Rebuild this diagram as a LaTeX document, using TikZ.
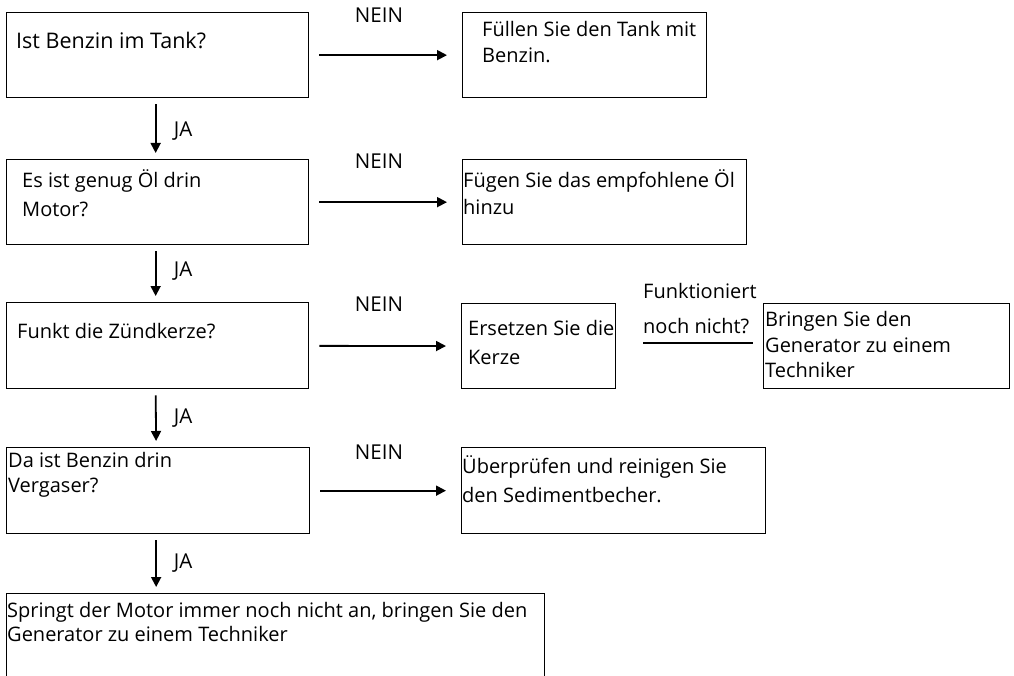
\documentclass[tikz,border=0pt]{standalone}
\usepackage{fontspec}
\setmainfont{Open Sans}
\usetikzlibrary{arrows.meta}

\begin{document}
\begin{tikzpicture}[x = 1pt, y = -1pt,
  box/.style = {draw, line width = 1.3pt, anchor = north west, inner sep = 0pt},
  txt/.style = {anchor = base west, align = left, inner sep = 0pt, font = \fontsize{20}{24}\selectfont},
  lbl/.style = {inner sep = 0pt, font = \fontsize{20.5}{24}\selectfont},
  arr/.style = {line width = 1.8pt, -{Triangle[length = 10pt, width = 10pt]}, shorten <= 10pt, shorten >= 15pt},
  down/.style = {line width = 1.8pt, -{Triangle[length = 10pt, width = 10pt]}, shorten <= 6pt, shorten >= 6pt}]

\clip (0, 0) rectangle (1014, 676);

% boxes
\node [box, minimum width = 302pt, minimum height = 85pt] (tank) at (6, 12) {};
\node [box, minimum width = 244pt, minimum height = 85pt] (fill) at (462, 12) {};
\node [box, minimum width = 302pt, minimum height = 85pt] (oil) at (6, 159) {};
\node [box, minimum width = 284pt, minimum height = 85pt] (addoil) at (462, 159) {};
\node [box, minimum width = 302pt, minimum height = 86pt] (spark) at (6, 302) {};
\node [box, minimum width = 154pt, minimum height = 85pt] (plug) at (461, 303) {};
\node [box, minimum width = 246pt, minimum height = 85pt] (tech) at (763, 303) {};
\node [box, minimum width = 303pt, minimum height = 86pt] (carb) at (6, 447) {};
\node [box, minimum width = 304pt, minimum height = 86pt] (clean) at (461, 447) {};
\node [box, minimum width = 538pt, minimum height = 120pt] (final) at (6, 593) {};

% texts (anchored at the last line)
\node [txt, font = \fontsize{21.5}{24}\selectfont] (tank-t) at (16, 49) {Ist Benzin im Tank?};
\node [txt] (fill-t) at (482, 63) {Füllen Sie den Tank mit\\[2pt]Benzin.};
\node [txt] (oil-t) at (22, 217) {Es ist genug Öl drin\\[5pt]Motor?};
\node [txt] (addoil-t) at (463, 215) {Fügen Sie das empfohlene Öl\\[3pt]hinzu};
\node [txt] (spark-t) at (17, 338) {Funkt die Zündkerze?};
\node [txt] (plug-t) at (468, 364) {Ersetzen Sie die\\[5pt]Kerze};
\node [txt] (tech-t) at (765, 377) {Bringen Sie den\\[2pt]Generator zu einem\\[1pt]Techniker};
\node [txt] (carb-t) at (8, 492) {Da ist Benzin drin\\[1pt]Vergaser?};
\node [txt] (clean-t) at (462, 502) {Überprüfen und reinigen Sie\\[5pt]den Sedimentbecher.};
\node [txt] (final-t) at (7, 641) {Springt der Motor immer noch nicht an, bringen Sie den\\Generator zu einem Techniker};
\node [txt] (again) at (643, 333) {Funktioniert\\[11pt]noch nicht?};

% NEIN / JA
\node [lbl] (n1) at (379, 15) {NEIN};
\node [lbl] (n2) at (379, 161) {NEIN};
\node [lbl] (n3) at (379, 304) {NEIN};
\node [lbl] (n4) at (379, 452) {NEIN};
\node [lbl] (j1) at (183, 131) {JA};
\node [lbl] (j2) at (183, 271) {JA};
\node [lbl] (j3) at (183, 418) {JA};
\node [lbl] (j4) at (183, 563) {JA};

% arrows
\draw [arr] (tank) -- (tank -| fill.west);
\draw [arr] (oil) -- (oil -| addoil.west);
\draw [arr] (spark) -- (plug);
\draw [arr] (carb) -- (clean);
\draw [down] ([xshift = -2pt]tank.south) -- ([xshift = -2pt]oil.north);
\draw [down] ([xshift = -2pt]oil.south) -- ([xshift = -2pt]spark.north);
\draw [down] ([xshift = -2pt]spark.south) -- ([xshift = -2pt]carb.north);
\draw [down] ([xshift = -2pt]carb.south) -- ([xshift = -2pt]carb.south |- final.north);
\draw [line width = 1.8pt, shorten <= 27pt, shorten >= 10pt] ([yshift = 3.5pt]plug.east) -- ([yshift = 3.5pt]tech.west);

\end{tikzpicture}
\end{document}
